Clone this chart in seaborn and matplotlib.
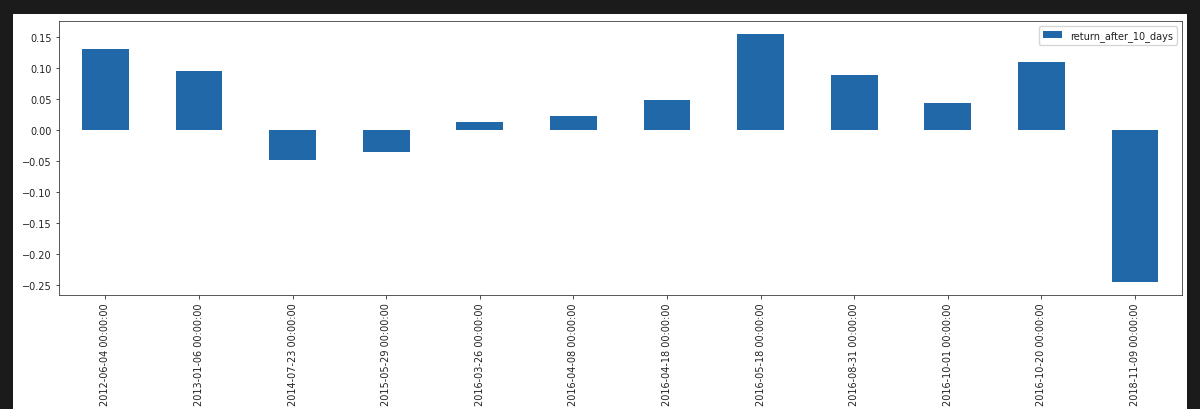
import matplotlib
matplotlib.use("Agg")
import matplotlib.pyplot as plt
import matplotlib.patches as mpatches
import seaborn as sns
import pandas as pd

dates = ["2012-06-04 00:00:00", "2013-01-06 00:00:00", "2014-07-23 00:00:00",
         "2015-05-29 00:00:00", "2016-03-26 00:00:00", "2016-04-08 00:00:00",
         "2016-04-18 00:00:00", "2016-05-18 00:00:00", "2016-08-31 00:00:00",
         "2016-10-01 00:00:00", "2016-10-20 00:00:00", "2018-11-09 00:00:00"]
returns = [0.1305, 0.0946, -0.049, -0.036, 0.013, 0.023,
           0.049, 0.155, 0.088, 0.044, 0.109, -0.244]
series_name = "return_after_10_days"

df = pd.DataFrame({"date": dates, series_name: returns})

s = 0.72
plt.rcParams.update({
    "font.size": 7.0,
    "axes.linewidth": 0.8 * s,
    "xtick.major.size": 3.5 * s,
    "ytick.major.size": 3.5 * s,
    "xtick.major.width": 0.8 * s,
    "ytick.major.width": 0.8 * s,
    "xtick.major.pad": 3.5 * 0.85,
    "ytick.major.pad": 3.5 * s,
    "text.color": "#222222",
    "xtick.color": "#222222",
    "ytick.color": "#222222",
    "axes.edgecolor": "#333333",
})

fig = plt.figure(figsize=(12, 4.1), dpi=100)
fig.patch.set_facecolor("#1b1b1b")
fig.add_artist(mpatches.Rectangle((13 / 1200, 0), (1187 - 13) / 1200, (410 - 15) / 410,
                                  transform=fig.transFigure, facecolor="white",
                                  edgecolor="none", zorder=0))
ax = fig.add_axes([58.7 / 1200, (410 - 295.7) / 410,
                   (1181.7 - 58.7) / 1200, (295.7 - 22.3) / 410])

sns.barplot(data=df, x="date", y=series_name, color="#2068a8", saturation=1,
            width=0.5, label=series_name, ax=ax)
ax.set_xlim(-0.5, len(dates) - 0.5)
ax.set_ylim(-0.265, 0.175)
ax.set_xlabel("")
ax.set_ylabel("")
ax.tick_params(axis="x", rotation=90)
ax.legend(loc="upper right")

fig.savefig("out.png", dpi=100, facecolor=fig.get_facecolor())
